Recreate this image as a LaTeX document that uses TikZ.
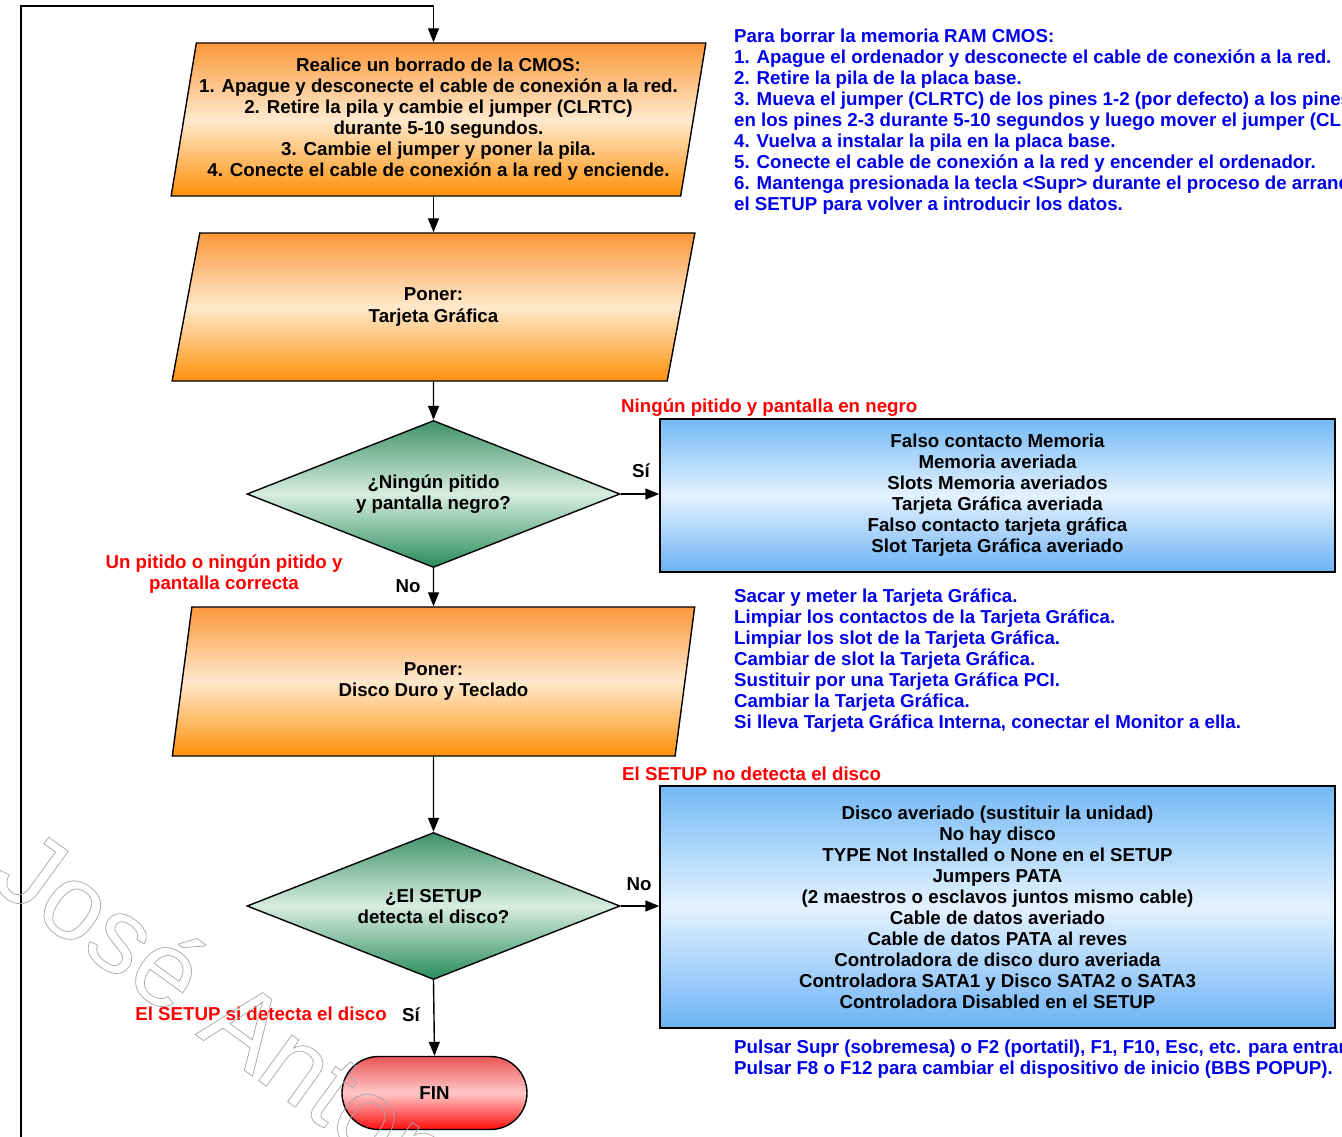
\documentclass[tikz,border=0pt]{standalone}
\usepackage{fontspec}
\setmainfont{Liberation Sans}
\usepackage{tikz}
\usetikzlibrary{shapes.geometric, shapes.misc, arrows.meta, positioning}
\definecolor{naranjaA}{RGB}{251,152,58}
\definecolor{naranjaB}{RGB}{255,233,204}
\definecolor{naranjaC}{RGB}{255,145,10}
\definecolor{verdeA}{RGB}{62,146,106}
\definecolor{verdeB}{RGB}{216,236,226}
\definecolor{verdeC}{RGB}{40,140,92}
\definecolor{azulA}{RGB}{115,185,245}
\definecolor{azulB}{RGB}{228,242,255}
\definecolor{azulC}{RGB}{108,178,245}
\definecolor{rojoA}{RGB}{235,85,85}
\definecolor{rojoB}{RGB}{255,200,200}
\definecolor{rojoC}{RGB}{255,12,12}
\definecolor{azul}{RGB}{0,0,235}
\definecolor{rojo}{RGB}{255,0,0}
\newcommand{\letra}{\fontsize{18.7}{21}\selectfont\bfseries}
\newcommand{\hueco}[1]{\special{pdf:literal direct 1 Tr 0.7 w}#1\special{pdf:literal direct 0 Tr}}
\tikzset{
 entrada/.style = {
    trapezium, draw, line width=1.4pt,
    trapezium left angle=78.5, trapezium right angle=101.5,
    trapezium stretches=true,
    inner sep=0pt, align=center, font=\letra,
    top color=naranjaA, bottom color=naranjaC, middle color=naranjaB},
 decision/.style = {
    diamond, draw, line width=1.4pt, aspect=2.5,
    minimum width=373pt, minimum height=147pt,
    inner sep=0pt, align=center, font=\letra,
    top color=verdeA, bottom color=verdeC, middle color=verdeB},
 causas/.style = {
    rectangle, draw, line width=1.4pt,
    minimum width=675pt,
    inner sep=0pt, align=center, font=\letra,
    top color=azulA, bottom color=azulC, middle color=azulB},
 fin/.style = {
    rounded rectangle, draw, line width=1.4pt,
    minimum width=185pt, minimum height=73pt,
    inner sep=0pt, font=\letra,
    top color=rojoA, bottom color=rojoC, middle color=rojoB},
 line/.style = {
    draw, line width=1.4pt, -{Triangle[length=14pt, width=11pt]}},
 aviso/.style = {
    text=rojo, font=\letra, inner sep=0pt},
 nota/.style = {
    text=azul, font=\letra, align=left, inner sep=0pt, anchor=north west},
 respuesta/.style = {
    font=\letra, inner sep=0pt},
 marca/.style = {
    font=\fontsize{107}{107}\selectfont, text=black!35,
    rotate=-36, anchor=base west, inner sep=0pt},
}
\begin{document}
\begin{tikzpicture}[x=1pt, y=-1pt]
\useasboundingbox (0,0) rectangle (1342,1136);

% Place nodes
\node [entrada, minimum width=539pt, minimum height=153pt] (cmos) at (438.5,119.5)
  {Realice un borrado de la CMOS:\\1. Apague y desconecte el cable de conexión a la red.\\2. Retire la pila y cambie el jumper (CLRTC)\\durante 5-10 segundos.\\3. Cambie el jumper y poner la pila.\\4. Conecte el cable de conexión a la red y enciende.};
\node [entrada, minimum width=523pt, minimum height=148pt] (tarjeta) at (433.5,307) {Poner:\\Tarjeta Gráfica};
\node [decision] (pitido) at (433.5,494) {¿Ningún pitido\\y pantalla negro?};
\node [entrada, minimum width=523pt, minimum height=149pt] (disco) at (433.5,681.5) {Poner:\\Disco Duro y Teclado};
\node [decision] (setup) at (433.5,906) {¿El SETUP\\detecta el disco?};
\node [fin] (final) at (434.5,1093) {FIN};

\node [causas, minimum height=153pt] (memoria) at (997.5,495.5)
  {Falso contacto Memoria\\Memoria averiada\\Slots Memoria averiados\\Tarjeta Gráfica averiada\\Falso contacto tarjeta gráfica\\Slot Tarjeta Gráfica averiado};
\node [causas, minimum height=242pt] (fallos) at (997.5,907)
  {Disco averiado (sustituir la unidad)\\No hay disco\\TYPE Not Installed o None en el SETUP\\Jumpers PATA\\(2 maestros o esclavos juntos mismo cable)\\Cable de datos averiado\\Cable de datos PATA al reves\\Controladora de disco duro averiada\\Controladora SATA1 y Disco SATA2 o SATA3\\Controladora Disabled en el SETUP};

% Labels
\node [respuesta] (si1) at (641,471) {Sí};
\node [respuesta] (no1) at (408,586) {No};
\node [respuesta] (no2) at (639,884) {No};
\node [respuesta] (si2) at (411,1015) {Sí};
\node [aviso, anchor=west] (negro) at (621,408) {Ningún pitido y pantalla en negro};
\node [aviso, align=center] (correcta) at (224,574) {Un pitido o ningún pitido y\\pantalla correcta};
\node [aviso, anchor=west] (nodetecta) at (622,774) {El SETUP no detecta el disco};
\node [aviso, anchor=east] (sidetecta) at (387,1014) {El SETUP si detecta el disco};

\node [nota] (borrado) at (734,29)
  {Para borrar la memoria RAM CMOS:\\1. Apague el ordenador y desconecte el cable de conexión a la red.\\2. Retire la pila de la placa base.\\3. Mueva el jumper (CLRTC) de los pines 1-2 (por defecto) a los pines\\en los pines 2-3 durante 5-10 segundos y luego mover el jumper (CLRTC)\\4. Vuelva a instalar la pila en la placa base.\\5. Conecte el cable de conexión a la red y encender el ordenador.\\6. Mantenga presionada la tecla \textless Supr\textgreater{} durante el proceso de arranque\\el SETUP para volver a introducir los datos.};
\node [nota] (grafica) at (734,589)
  {Sacar y meter la Tarjeta Gráfica.\\Limpiar los contactos de la Tarjeta Gráfica.\\Limpiar los slot de la Tarjeta Gráfica.\\Cambiar de slot la Tarjeta Gráfica.\\Sustituir por una Tarjeta Gráfica PCI.\\Cambiar la Tarjeta Gráfica.\\Si lleva Tarjeta Gráfica Interna, conectar el Monitor a ella.};
\node [nota] (teclas) at (734,1040)
  {Pulsar Supr (sobremesa) o F2 (portatil), F1, F10, Esc, etc. para entrar\\Pulsar F8 o F12 para cambiar el dispositivo de inicio (BBS POPUP).};

% Connectors
\coordinate (retorno) at (21,1150);
\coordinate (codo) at (433.5,6);
\path [line] (retorno) |- (codo) -- (codo |- cmos.north);
\path [line] (tarjeta.north |- cmos.south) -- (tarjeta.north);
\path [line] (tarjeta.south) -- (pitido.north);
\path [line] (pitido.east) -- (pitido.east -| memoria.west);
\path [line] (pitido.south) -- (disco.north);
\path [line] (disco.south) -- (setup.north);
\path [line] (setup.east) -- (setup.east -| fallos.west);
\path [line] (setup.south) -- (final.north);

\node [marca] (firma) at (-12,884) {\hueco{José Antonio}};
\end{tikzpicture}
\end{document}
